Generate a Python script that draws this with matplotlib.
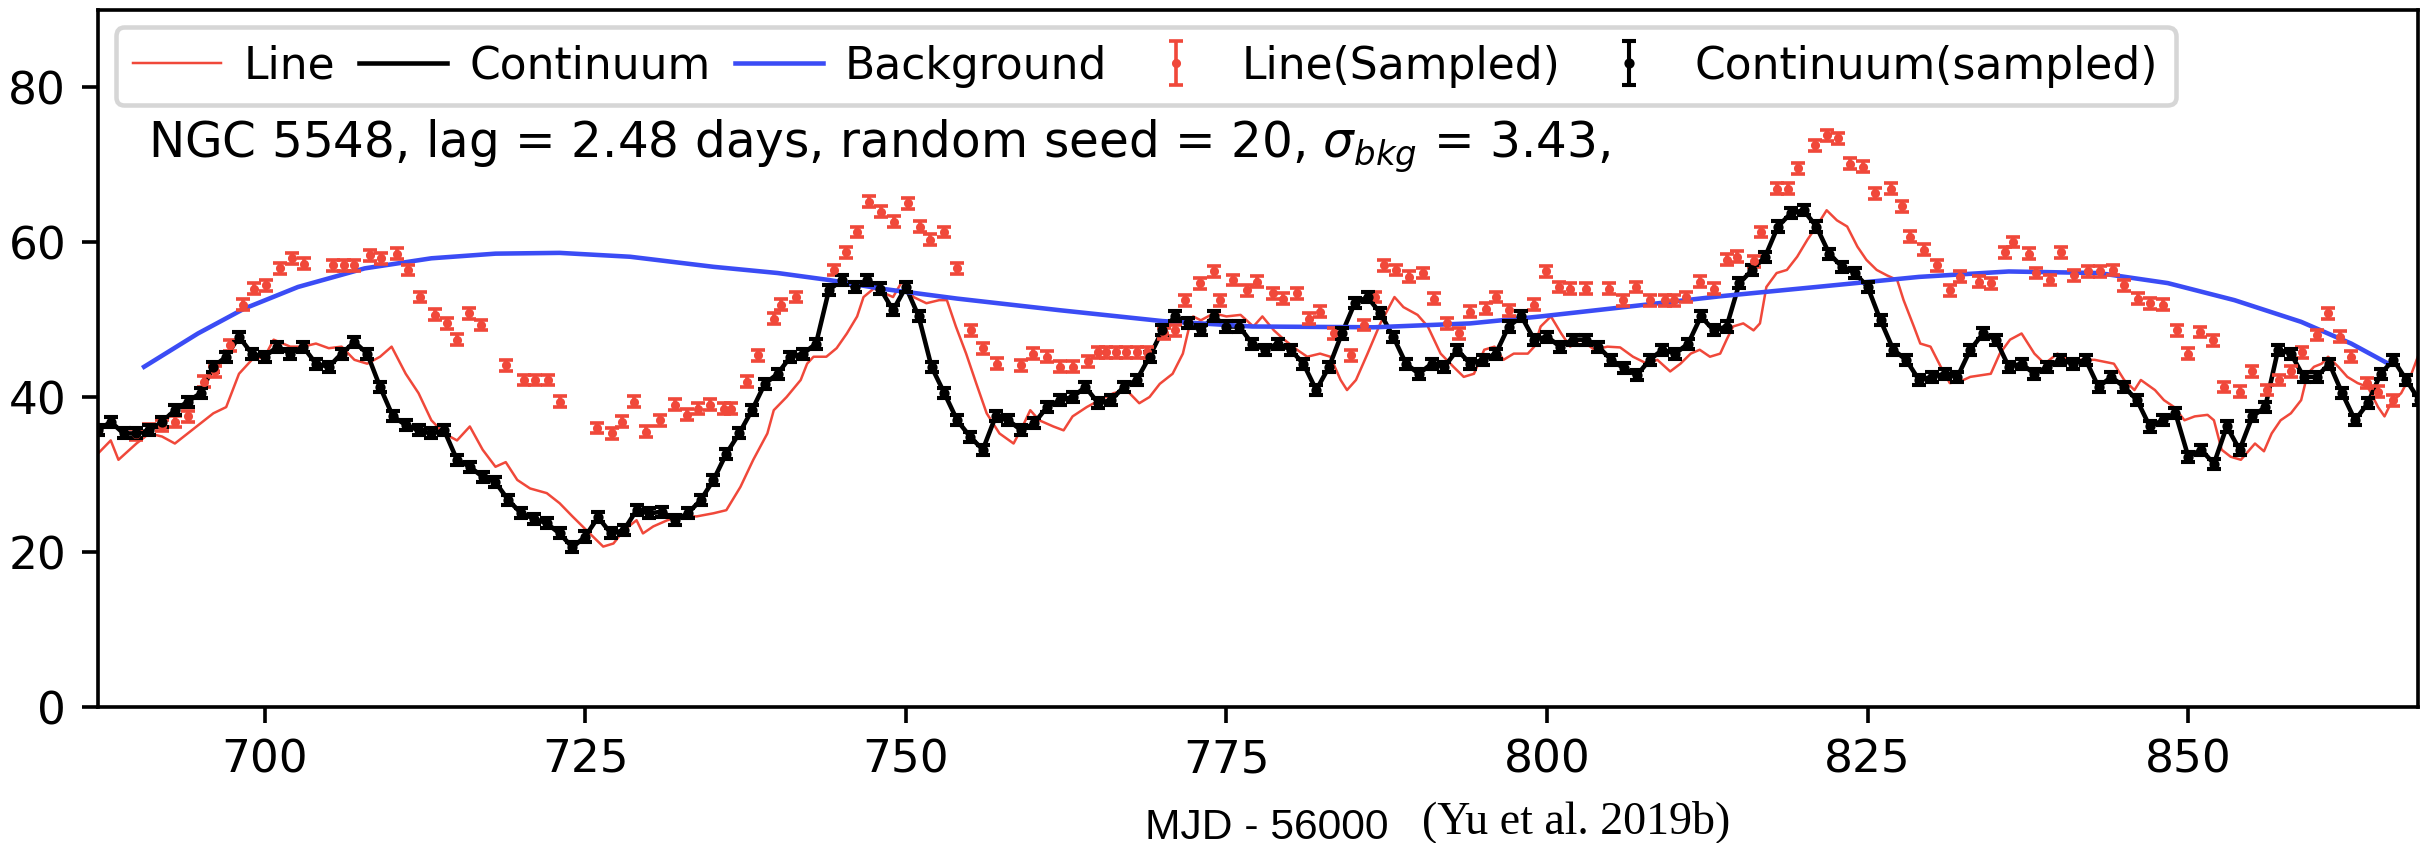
import numpy as np
import matplotlib
matplotlib.use("Agg")
import matplotlib.pyplot as plt

# Continuum light curve (MJD - 56000, flux), read at ~1 day steps
cont_t = np.arange(687, 869)
cont_v = [35.7, 36.8, 35.3, 35.3, 35.7, 36.8, 38.3, 39.4, 40.5, 43.9,
          45.2, 47.8, 45.6, 45.2, 46.5, 45.6, 46.5, 44.3, 43.9, 45.6,
          47.1, 45.6, 41.3, 37.5, 36.4, 35.7, 35.3, 35.7, 31.9, 31.0,
          29.7, 29.0, 26.7, 25.0, 24.3, 23.7, 22.4, 20.6, 22.0, 24.5,
          22.4, 22.8, 25.4, 25.0, 25.2, 24.1, 25.0, 26.7, 29.3, 32.7,
          35.3, 38.3, 41.7, 43.0, 45.2, 45.6, 46.9, 53.8, 55.1, 54.2,
          55.1, 54.0, 51.2, 54.2, 50.4, 43.9, 40.5, 37.0, 34.9, 33.2,
          37.5, 37.0, 35.7, 36.6, 38.7, 39.6, 40.0, 41.3, 39.2, 39.6,
          41.3, 42.2, 45.2, 48.6, 50.4, 49.5, 48.6, 50.4, 49.1, 49.1,
          46.9, 46.1, 46.9, 46.1, 44.3, 40.9, 43.9, 48.2, 52.1, 52.9,
          50.8, 47.8, 44.3, 43.0, 44.3, 43.9, 46.1, 44.3, 44.8, 45.6,
          49.1, 50.4, 47.4, 47.8, 46.5, 47.4, 47.4, 46.5, 44.8, 43.7,
          42.8, 44.8, 46.1, 45.6, 46.9, 50.4, 48.6, 49.1, 54.7, 56.4,
          58.1, 62.0, 63.7, 64.1, 62.0, 58.5, 56.8, 56.0, 54.2, 49.9,
          46.1, 44.8, 42.2, 42.6, 43.0, 42.6, 46.1, 48.2, 47.4, 43.9,
          44.3, 43.0, 43.9, 44.8, 44.3, 44.8, 41.3, 42.6, 41.3, 39.6,
          36.2, 37.0, 37.9, 32.3, 33.2, 31.4, 36.2, 33.2, 37.5, 38.7,
          46.1, 45.6, 42.6, 42.6, 44.3, 40.5, 37.0, 39.2, 43.0, 44.8,
          42.2, 39.6]
cont_err = 0.65

# Emission line light curve
line_t = [687.0, 688.0, 688.6, 690.0, 691.0, 692.0, 693.0, 694.0, 695.0, 696.0,
          697.0, 698.0, 699.0, 700.0, 700.7, 702.0, 703.0, 704.0, 705.0, 706.0,
          707.0, 708.0, 709.0, 709.9, 711.0, 712.0, 713.0, 714.0, 715.0, 716.0,
          717.0, 718.0, 718.8, 719.7, 720.7, 722.0, 723.0, 724.0, 725.1, 726.4,
          727.2, 728.0, 729.0, 729.5, 730.3, 731.4, 732.4, 733.7, 735.0, 736.0,
          737.1, 738.1, 739.2, 739.7, 740.7, 741.8, 742.3, 742.8, 743.8, 744.6,
          745.4, 746.2, 746.7, 747.5, 749.0, 749.7, 750.6, 751.6, 752.6, 753.2,
          753.9, 754.7, 755.5, 756.3, 757.3, 758.4, 759.1, 759.7, 760.4, 761.5,
          762.3, 763.0, 764.1, 765.1, 766.2, 767.2, 768.2, 769.0, 769.8, 770.8,
          771.6, 772.1, 772.4, 773.0, 774.0, 775.0, 776.1, 777.1, 777.8, 778.7,
          779.5, 780.5, 781.3, 782.3, 783.1, 783.9, 784.4, 785.1, 786.0, 787.0,
          788.1, 788.8, 789.9, 790.7, 791.7, 792.7, 793.5, 794.3, 795.1, 795.9,
          796.6, 797.4, 798.5, 799.0, 799.5, 800.3, 801.1, 801.8, 802.6, 803.7,
          804.7, 805.7, 806.7, 807.8, 808.6, 809.6, 810.4, 811.2, 811.9, 812.7,
          813.5, 814.0, 814.5, 815.3, 816.1, 816.6, 817.1, 817.9, 818.7, 819.5,
          820.3, 821.0, 821.8, 822.6, 823.4, 824.2, 824.9, 825.7, 826.5, 827.3,
          827.8, 828.6, 829.1, 829.9, 830.7, 831.4, 832.2, 833.0, 833.8, 834.6,
          835.3, 836.1, 837.0, 838.0, 838.8, 839.8, 840.6, 841.6, 842.7, 844.2,
          845.0, 845.8, 846.3, 847.4, 848.1, 848.9, 849.7, 850.5, 851.5, 852.0,
          852.6, 853.3, 854.1, 855.2, 855.9, 856.5, 857.2, 858.0, 858.8, 859.3,
          859.8, 860.4, 860.9, 861.7, 862.4, 863.2, 864.0, 864.8, 865.3, 865.8,
          866.6, 867.4, 867.9]
line_v = [32.7, 34.4, 31.9, 34.0, 35.3, 34.9, 34.0, 35.3, 36.6, 37.9,
          38.7, 43.0, 44.8, 45.2, 47.4, 46.5, 46.5, 46.9, 46.3, 46.5,
          44.8, 44.3, 45.2, 46.5, 43.0, 40.5, 37.0, 35.3, 34.4, 36.2,
          33.2, 31.0, 31.6, 29.3, 28.2, 27.6, 26.3, 24.6, 22.8, 20.7,
          21.1, 22.8, 24.1, 22.4, 23.3, 24.1, 24.6, 24.6, 25.0, 25.4,
          28.4, 31.9, 35.3, 38.3, 40.0, 42.2, 44.3, 45.2, 45.2, 46.3,
          48.2, 50.4, 52.9, 54.0, 52.9, 54.9, 52.9, 52.1, 52.5, 52.5,
          49.1, 45.6, 41.7, 37.9, 35.3, 34.0, 36.2, 38.3, 37.0, 36.2,
          35.7, 37.5, 38.7, 39.6, 40.5, 40.9, 39.2, 40.0, 41.7, 43.0,
          45.6, 49.1, 50.4, 49.9, 50.8, 50.4, 50.6, 49.1, 50.4, 48.6,
          47.4, 46.1, 45.2, 45.6, 45.2, 42.2, 40.9, 42.2, 45.6, 49.5,
          52.9, 51.6, 50.6, 49.1, 45.6, 43.9, 42.6, 43.0, 46.1, 46.5,
          44.8, 45.6, 45.6, 46.5, 49.1, 50.4, 48.2, 46.5, 47.4, 46.1,
          46.5, 46.4, 45.2, 44.3, 44.8, 43.3, 44.3, 45.6, 46.1, 45.2,
          45.6, 47.4, 49.1, 49.5, 48.6, 49.5, 54.2, 56.0, 56.4, 58.1,
          60.3, 62.0, 64.1, 62.8, 62.0, 59.4, 57.7, 56.4, 55.7, 55.1,
          52.5, 49.1, 46.9, 46.5, 43.9, 41.8, 42.0, 42.6, 42.8, 43.0,
          45.6, 47.4, 48.2, 45.6, 44.3, 45.6, 44.8, 44.8, 44.8, 44.3,
          42.2, 40.9, 42.2, 40.9, 39.6, 38.7, 37.0, 37.5, 37.7, 37.0,
          33.2, 32.3, 31.9, 34.0, 33.0, 35.3, 37.0, 37.9, 39.6, 43.0,
          43.9, 44.3, 45.2, 43.9, 42.6, 41.8, 41.3, 38.7, 37.5, 39.2,
          40.5, 43.0, 45.2]

# Background trend
bkg_t = [690.6, 694.8, 698.4, 702.6, 707.8, 713.0, 718.0, 723.0, 728.5, 735.0,
         740.0, 744.0, 748.0, 754.0, 762.0, 770.0, 777.0, 786.5, 794.0, 799.5,
         806.0, 813.5, 821.0, 829.0, 836.0, 843.0, 848.4, 853.6, 858.8, 862.7,
         865.6]
bkg_v = [43.9, 48.2, 51.4, 54.2, 56.6, 57.9, 58.5, 58.6, 58.1, 56.8,
         56.0, 55.1, 54.0, 52.7, 51.2, 49.8, 49.1, 49.0, 49.5, 50.4,
         51.6, 53.0, 54.2, 55.5, 56.2, 56.0, 54.7, 52.5, 49.7, 46.9,
         44.3]

# Sampled line points
samp_t = [690.0, 691.0, 692.0, 693.0, 694.0, 695.3, 696.1, 697.3, 698.3, 699.2,
          700.1, 701.2, 702.1, 703.1, 705.3, 706.2, 707.0, 708.2, 709.1, 710.3,
          711.2, 712.1, 713.3, 714.2, 715.0, 715.9, 716.9, 718.8, 720.2, 721.1,
          722.1, 723.0, 725.9, 727.1, 727.9, 728.8, 729.7, 730.8, 732.0, 732.9,
          733.8, 734.7, 735.8, 736.4, 737.6, 738.5, 739.7, 740.3, 741.4, 744.4,
          745.3, 746.2, 747.1, 748.1, 749.1, 750.2, 751.1, 751.9, 753.0, 754.0,
          755.1, 756.0, 757.1, 759.0, 759.9, 761.0, 762.0, 763.0, 764.2, 765.0,
          765.6, 766.4, 767.2, 768.0, 768.8, 770.1, 771.0, 771.8, 772.9, 774.0,
          774.5, 775.5, 776.6, 777.4, 778.6, 779.4, 780.5, 781.4, 782.3, 783.4,
          784.7, 785.7, 786.6, 787.3, 788.2, 789.2, 790.3, 791.2, 792.2, 793.1,
          794.0, 795.2, 796.0, 797.0, 799.0, 799.9, 800.9, 801.8, 803.0, 804.8,
          805.9, 806.9, 808.0, 809.2, 809.9, 810.8, 811.9, 813.0, 814.0, 814.8,
          816.1, 816.7, 817.9, 818.8, 819.6, 820.9, 821.8, 822.7, 823.6, 824.6,
          825.6, 826.8, 827.7, 828.3, 829.4, 830.4, 831.4, 832.2, 833.7, 834.6,
          835.7, 836.3, 837.6, 838.1, 839.2, 840.1, 841.1, 842.2, 843.1, 844.1,
          845.0, 846.1, 847.0, 848.0, 849.1, 850.0, 850.9, 851.9, 852.8, 854.0,
          855.0, 856.1, 857.1, 858.0, 858.9, 860.0, 860.9, 861.8, 862.7, 863.9,
          864.8, 866.0]
samp_v = [35.2, 35.8, 36.3, 36.8, 37.5, 42.0, 43.3, 46.7, 51.9, 54.0,
          54.4, 56.6, 57.9, 57.2, 57.0, 57.0, 57.0, 58.3, 57.9, 58.5,
          56.4, 52.9, 50.6, 49.5, 47.4, 50.8, 49.3, 44.1, 42.2, 42.2,
          42.2, 39.4, 36.0, 35.3, 36.8, 39.4, 35.5, 37.0, 39.0, 37.7,
          38.5, 39.0, 38.5, 38.5, 42.0, 45.4, 50.1, 51.9, 52.9, 56.4,
          58.7, 61.3, 65.2, 63.9, 62.6, 65.0, 62.0, 60.3, 61.3, 56.6,
          48.6, 46.3, 44.3, 44.1, 45.6, 45.2, 43.9, 43.9, 44.6, 45.8,
          45.8, 45.8, 45.8, 45.8, 45.8, 48.2, 48.6, 52.5, 54.7, 56.2,
          52.5, 55.1, 53.8, 54.9, 53.4, 52.7, 53.4, 50.1, 51.0, 48.2,
          45.4, 49.3, 52.9, 57.0, 56.4, 55.5, 56.0, 52.7, 49.5, 48.2,
          51.0, 51.4, 52.9, 51.2, 51.9, 56.2, 54.2, 54.0, 54.0, 54.0,
          52.5, 54.2, 52.5, 52.5, 52.5, 52.9, 54.9, 54.0, 57.7, 58.1,
          57.5, 61.3, 66.9, 66.9, 69.5, 72.5, 73.8, 73.4, 70.1, 69.7,
          66.3, 66.9, 64.6, 60.7, 59.0, 57.0, 53.8, 55.5, 54.9, 54.7,
          58.7, 60.0, 58.5, 56.0, 55.1, 58.7, 55.7, 56.2, 56.2, 56.4,
          54.4, 52.7, 52.1, 51.9, 48.6, 45.6, 48.4, 47.3, 41.3, 40.7,
          43.3, 40.9, 42.2, 43.3, 45.8, 48.0, 50.8, 47.8, 45.2, 41.8,
          40.7, 39.6]
samp_err = 0.7

red = "#f0483a"
blue = "#3b4cf5"

fig = plt.figure(figsize=(2430 / 327, 843 / 327), dpi=327)
ax = fig.add_axes([0.0403, 0.1613, 0.9547, 0.8274])

ax.plot(line_t, line_v, color=red, lw=0.55, label="Line")
ax.plot(cont_t, cont_v, color="black", lw=1.0, label="Continuum")
ax.plot(bkg_t, bkg_v, color=blue, lw=1.0, label="Background")
ax.errorbar(samp_t, samp_v, yerr=samp_err, fmt=".", color=red, ms=2,
            elinewidth=0.8, capsize=1.6, capthick=0.8, label="Line(Sampled)")
ax.errorbar(cont_t, cont_v, yerr=cont_err, fmt=".", color="black", ms=2.5,
            elinewidth=0.9, capsize=1.6, capthick=0.9, label="Continuum(sampled)")

ax.set_xlim(687, 867.9)
ax.set_ylim(0, 90)
ax.set_xticks([700, 725, 750, 775, 800, 825, 850])
ax.set_yticks([0, 20, 40, 60, 80])

ax.text(690.9, 70.8, r"NGC 5548, lag = 2.48 days, random seed = 20, $\sigma_{bkg}$ = 3.43,",
        fontsize=10.7, va="baseline")
ax.legend(loc="upper left", ncol=5, fontsize=9.7, borderaxespad=0.4,
          columnspacing=0.55, handletextpad=0.5)

fig.text(0.471, 0.005, "MJD - 56000", family=["Liberation Sans", "DejaVu Sans"],
         fontsize=9.4, va="baseline")
fig.text(0.585, 0.0119, "(Yu et al. 2019b)", family=["Liberation Serif", "DejaVu Serif"],
         fontsize=10.1, va="baseline")

fig.savefig("out.png", dpi=327)
